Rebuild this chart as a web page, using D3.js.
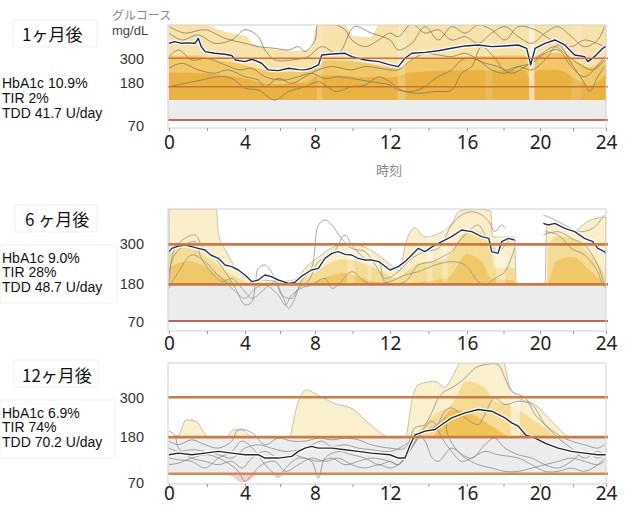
<!DOCTYPE html>
<html><head><meta charset="utf-8">
<script src="https://cdn.jsdelivr.net/npm/d3@7"></script>
<style>body{margin:0;background:#fff}svg{display:block}</style>
</head><body><svg id="c" width="629" height="506"></svg>
<script>
// ---------- data ----------
const hourTicks = [0,4,8,12,16,20,24];
const minorTicks = [0,2,4,6,8,10,12,14,16,18,20,22,24];
const thresholds = [70,180,300];
const titles = ["1ヶ月後","6 ヶ月後","12ヶ月後"];
const hba1c = ["HbA1c 10.9%","HbA1c 9.0%","HbA1c 6.9%"];
const tir = ["TIR 2%","TIR 28%","TIR 74%"];
const tdd = ["TDD 41.7 U/day","TDD 48.7 U/day","TDD 70.2 U/day"];

// Panel 1 (1 month)
const median1 = [[0,363],[0.3,370],[0.67,363],[1.0,365],[1.37,363],[1.54,384],[1.7,349],[1.9,328],[2.4,321],[2.95,317],[3.3,312],[3.5,293],[4.0,286],[4.4,296],[4.95,279],[5.33,251],[5.9,248],[6.5,258],[7.05,252],[7.43,251],[7.8,258],[8.18,272],[8.36,314],[8.9,318],[9.6,321],[9.96,307],[10.67,293],[11.4,286],[12.0,272],[12.43,265],[12.78,300],[13.13,321],[13.82,325],[14.51,332],[15.2,342],[15.9,352],[16.62,356],[17.35,349],[18.08,352],[18.81,356],[19.27,342],[19.49,272],[19.73,342],[20.3,363],[20.9,377],[21.5,356],[22.1,314],[22.7,307],[22.9,286],[23.3,307],[23.8,342],[24,350]];
const upper1 = [[0,440],[2.0,440],[2.6,420],[3.3,405],[4.0,395],[4.5,360],[5.0,345],[6.0,335],[7.0,332],[7.8,340],[8.1,440],[9.6,440],[10.0,395],[11.0,390],[11.4,440],[24,440]];
const mid1 = [[0,310],[1.5,312],[2,300],[3.5,280],[5,252],[6,242],[7.5,245],[8.2,268],[8.5,292],[10,288],[12,262],[12.6,258],[13.2,292],[15,302],[17,310],[19.2,312],[19.5,250],[19.75,310],[21,322],[22.3,282],[23,262],[24,300]];
const low1 = [[0,240],[2,236],[4,214],[5.5,190],[7.5,198],[8.2,228],[12,218],[13,240],[16,250],[19.2,250],[19.5,200],[19.75,250],[21,252],[22.5,200],[23,185],[24,230]];
const stripes1 = [[8.1,8.4,0.18],[12.4,12.8,0.22],[17.0,17.4,0.12],[19.4,19.7,0.55],[21.9,22.5,0.12]];
const trace1a = [[0,180],[0.84,194],[1.7,208],[2.6,222],[3.3,215],[4.0,175],[4.76,169],[5.7,136],[6.5,164],[7.43,180],[8.18,201],[8.53,187],[9.1,164],[9.96,180],[10.67,187],[11.4,222],[12.0,200],[12.43,175],[12.78,164],[13.47,158],[14.34,164],[15.2,169],[15.72,237],[16.26,265],[16.8,349],[17.53,300],[18.08,251],[18.81,265],[19.55,251],[20.3,293],[21.1,356],[21.9,279],[22.7,194],[23.0,164],[23.5,222],[23.9,265]];
const trace1b = [[0,258],[0.67,279],[1.54,251],[2.4,237],[3.1,251],[4,222],[4.76,208],[5.14,180],[5.9,215],[6.67,194],[7.43,222],[8.18,251],[8.9,265],[9.96,251],[10.67,265],[12,251],[12.43,251],[13.13,293],[13.82,321],[14.51,314],[15.2,307],[15.9,321],[16.62,293],[17.35,251],[18.08,237],[18.81,265],[19.55,279],[20.3,321],[21.1,335],[21.9,265],[22.7,222],[23.9,307]];
const trace1c = [[0,433],[0.84,406],[1.9,420],[2.95,384],[4,363],[4.76,349],[5.7,342],[6.5,335],[7.05,349],[7.43,328],[8,377],[8.18,445],[8.9,445],[9.6,420],[9.96,377],[10.67,349],[11.4,377],[12,406],[12.43,391],[13.13,445],[13.82,406],[14.51,420],[15.2,377],[15.9,391],[16.62,363],[17.35,406],[18.08,433],[18.81,391],[19.55,363],[20.3,406],[21.1,433],[21.9,391],[22.7,349],[23.5,377],[23.9,433]];
const trace1d = [[0,406],[0.67,377],[1.54,398],[2.4,363],[3.3,377],[4,420],[4.76,391],[5.14,335],[5.7,293],[6.67,293],[7.6,307],[8.36,349],[9.24,321],[10.1,433],[11,406],[12,377],[12.43,335],[13.13,363],[13.82,433],[14.51,377],[15.2,433],[15.9,406],[16.62,440],[17.35,420],[18.08,377],[18.81,433],[19.73,420],[20.7,377],[21.9,349],[22.7,377],[23.9,349]];
const trace1e = [[0,307],[0.5,335],[1.2,293],[2.0,300],[2.95,272],[3.7,251],[4.4,258],[5.14,222],[6.2,208],[7.05,222],[7.8,237],[8.53,215],[9.24,222],[9.96,215],[11,201],[12,187],[12.43,169],[13.13,164],[13.82,180],[14.34,215],[15.2,251],[15.72,293],[16.26,300],[17.0,279],[17.7,265],[18.45,237],[19.2,265],[19.9,307],[20.9,349],[21.5,321],[22.3,279],[23.2,251],[23.9,293]];

// Panel 2 (6 months)
const median2 = [[0,278],[0.15,288],[0.5,295],[0.84,298],[1.2,293],[1.54,288],[1.9,283],[2.2,268],[2.6,258],[2.95,238],[3.3,233],[3.65,223],[4,208],[4.4,188],[4.76,193],[5.14,208],[5.5,203],[5.9,193],[6.5,183],[6.85,186],[7.2,203],[7.8,223],[8.18,228],[8.53,258],[8.9,273],[9.24,278],[9.6,270],[9.96,268],[10.3,258],[10.67,253],[11,253],[11.4,248],[12,223],[12.43,233],[12.78,248],[13.13,268],[13.47,288],[13.82,278],[14.2,293],[14.51,303],[15.2,323],[15.72,343],[16.26,338],[16.8,323],[17.2,318],[17.35,278],[17.7,273],[17.9,308],[18.27,318],[18.6,313],[18.65,null],[20.15,null],[20.2,363],[20.5,358],[20.9,363],[21.5,348],[22.1,338],[22.7,318],[23.2,308],[23.5,288],[23.9,278],[24,272]];
const upper2 = [[0,406],[2.5,406],[2.6,330],[3.0,280],[3.6,222],[4.2,196],[6.5,190],[7.0,200],[7.5,232],[8.2,262],[9,292],[10,300],[11,282],[12,240],[12.5,222],[12.8,300],[13.3,350],[13.8,322],[14.5,332],[15.2,362],[15.6,400],[16.5,406],[17.3,400],[17.4,322],[18.6,322],[18.7,180],[20.3,180],[20.4,350],[21,362],[22,340],[23,372],[24,382]];
const mid2 = [[0,270],[0.6,290],[1.5,280],[2.3,250],[3,220],[3.6,200],[4.2,185],[6.8,183],[7.3,195],[8,215],[8.5,235],[9.5,255],[10.5,245],[11.5,220],[12.3,200],[12.8,215],[13.5,245],[14.5,250],[15.2,275],[15.8,330],[16.5,340],[17.3,300],[17.5,230],[18.6,230],[18.7,180],[20.4,180],[20.5,290],[21,325],[22,315],[23,270],[23.7,230],[24,200]];
const low2 = [[0,230],[1,250],[2,230],[3,195],[3.5,182],[7.5,182],[8.5,200],[9.5,215],[10.5,200],[12,182],[15,200],[16,270],[16.8,250],[17.3,200],[18.6,190],[18.7,180],[20.4,180],[21,250],[22,262],[23,222],[24,180]];
const stripes2 = [[9.7,10.1,0.25],[10.8,11.0,0.25],[13.9,14.2,0.25],[14.7,15.0,0.25],[17.6,18.1,0.3]];
const trace2a = [[0,188],[0.3,288],[0.84,318],[1.37,328],[1.7,298],[2.05,268],[2.4,258],[2.95,218],[3.5,168],[4,118],[4.4,128],[4.6,188],[4.76,228],[5.14,238],[5.5,218],[6.2,138],[6.5,108],[6.85,138],[7.2,188],[7.8,228],[8.18,358],[8.53,373],[8.9,358],[9.4,318],[9.96,288],[10.67,278],[11.2,240],[11.73,198],[12.43,218],[13.13,258],[13.82,278],[14.51,288],[15.2,358],[15.72,388],[16.26,398],[16.8,388],[17.2,368],[17.53,338],[17.9,358],[18.1,348],[18.2,null],[20.1,null],[20.2,388],[20.7,378],[21.5,358],[22.3,338],[23.2,348],[23.9,388]];
const trace2b = [[0,218],[0.3,268],[0.84,298],[1.37,308],[1.7,258],[2.2,218],[2.8,188],[3.3,198],[3.85,168],[4.4,138],[4.95,158],[5.7,188],[6.1,148],[6.67,138],[7.05,168],[7.6,188],[8.18,248],[8.9,268],[9.6,328],[9.96,298],[10.67,258],[11.4,248],[11.73,188],[12.78,188],[13.47,238],[14.2,248],[14.9,268],[15.2,278],[15.72,318],[16.26,348],[16.62,358],[17.2,308],[17.7,278],[18.45,318],[18.7,308],[18.75,null],[20.1,null],[20.2,328],[21.1,338],[21.9,318],[22.7,298],[23.5,238],[23.9,178]];
const trace2c = [[0,168],[0.5,218],[1.2,268],[1.9,248],[2.4,218],[2.95,188],[3.5,158],[4.0,138],[4.6,168],[5.14,178],[5.9,148],[6.3,118],[6.67,148],[7.2,168],[7.8,178],[8.53,198],[8.9,168],[9.24,178],[9.96,218],[10.67,188],[11.4,183],[12,188],[12.78,208],[13.47,218],[14.34,238],[15.2,248],[15.9,238],[16.62,188],[16.98,178],[17.53,198],[18.08,218],[18.6,288],[18.65,null],[20.2,null],[20.3,338],[21.1,328],[21.9,288],[22.7,268],[23.5,218],[23.8,178],[24,170]];

// Panel 3 (12 months)
const median3 = [[0,127],[0.5,132],[1.2,127],[1.9,132],[2.6,137],[3.3,132],[4.0,127],[4.76,127],[5.14,117],[5.9,117],[6.67,122],[7.05,137],[7.43,147],[7.8,152],[8.18,147],[8.9,147],[9.6,142],[10.3,137],[11,132],[12,127],[12.43,117],[12.78,117],[13.05,157],[13.3,187],[13.82,198],[14.34,203],[14.7,218],[15.2,238],[15.9,253],[16.62,263],[17.35,258],[18.08,238],[18.45,223],[18.81,213],[19.2,187],[19.73,177],[20.3,162],[21.1,147],[21.9,137],[22.7,132],[23.5,127],[24,127]];
const upper3 = [[0,180],[0.5,186],[0.9,232],[1.4,228],[2.1,180],[3.0,180],[3.4,202],[3.9,200],[4.4,180],[6.5,180],[7.0,280],[7.5,322],[8.2,305],[9,282],[10,265],[11,215],[12,180],[12.8,180],[13.13,288],[13.47,338],[14.34,348],[14.85,330],[15.2,358],[15.72,405],[18.0,405],[18.3,338],[18.8,300],[19.73,278],[20.7,228],[21.9,180],[24,180]];
const mid3 = [[0,180],[13.0,180],[13.3,190],[14.34,248],[15.2,278],[16.0,348],[16.98,328],[17.5,288],[18.3,278],[19.2,248],[20.3,208],[21.1,180],[24,180]];
const low3 = [[0,180],[14.2,180],[14.7,230],[15.2,262],[15.9,258],[16.6,240],[17.3,215],[18,190],[18.3,180],[24,180]];
const hypo3 = [[0,70],[3.0,70],[3.4,58],[3.85,44],[4.3,52],[4.8,70],[5.4,70],[5.9,57],[6.3,70],[24,70]];
const stripes3 = [[18.4,18.9,0.5]];
const trace3a = [[0,198],[0.3,187],[0.5,147],[1.2,117],[1.9,107],[2.6,97],[3.3,107],[3.85,87],[4.4,117],[5.14,137],[5.9,117],[6.67,127],[7.43,117],[8.18,107],[8.9,117],[9.6,97],[10.3,107],[11,117],[12,107],[12.43,97],[13.13,147],[13.47,187],[13.82,168],[14.2,117],[14.51,107],[15.2,147],[15.9,117],[16.62,97],[17.35,87],[18.08,77],[18.81,77],[19.55,87],[20.3,97],[21.1,107],[21.9,117],[22.7,107],[23.5,97],[23.9,107]];
const trace3b = [[0,168],[0.5,157],[1.2,172],[1.9,157],[2.6,147],[3.3,168],[3.65,203],[4.4,193],[5.14,157],[5.9,177],[6.67,168],[7.43,168],[8.18,177],[8.9,172],[9.6,177],[10.3,172],[11,157],[12,147],[12.78,147],[13.3,208],[13.82,218],[14.2,258],[14.51,298],[14.85,318],[15.2,328],[15.9,358],[16.44,388],[16.98,398],[17.7,398],[18.08,358],[18.45,318],[19.2,298],[19.73,248],[20.3,218],[21.1,187],[21.9,168],[22.7,157],[23.5,147],[23.9,157]];
const trace3c = [[0,117],[0.5,112],[1.2,107],[1.9,87],[2.6,117],[3.3,137],[3.85,168],[4.6,137],[5.14,97],[5.9,67],[6.5,97],[7.05,117],[7.8,107],[8.18,57],[8.53,117],[9.24,137],[9.96,127],[10.67,117],[11.4,97],[12,107],[12.43,97],[12.95,137],[13.47,177],[13.82,198],[14.51,218],[14.85,238],[15.0,187],[15.55,137],[16.26,117],[16.98,157],[17.5,177],[18.08,147],[18.81,127],[19.55,117],[20.3,97],[21.1,87],[21.9,107],[22.7,137],[23.5,117],[23.9,127]];
const trace3d = [[0,147],[0.5,137],[1.2,142],[1.9,137],[2.6,127],[3.3,117],[4.0,147],[4.76,157],[5.5,147],[6.3,137],[7.05,142],[7.8,157],[8.36,168],[8.9,152],[9.6,157],[10.3,147],[11,142],[12,137],[12.78,157],[13.47,187],[14.34,208],[14.85,258],[15.2,268],[15.9,238],[16.62,218],[16.98,248],[17.5,298],[18.08,278],[18.81,288],[19.55,278],[20.3,218],[21.1,177],[21.9,147],[22.7,117],[23.5,137],[23.9,127]];
const trace3e = [[0,97],[0.5,102],[1.2,117],[2.05,127],[2.95,107],[3.65,77],[4.0,47],[4.4,67],[4.95,97],[5.7,107],[6.3,77],[7.05,97],[7.8,117],[8.53,107],[9.24,117],[9.96,97],[10.67,87],[11.4,97],[12,87],[12.43,97],[13.13,147],[13.65,198],[14.2,228],[14.7,177],[15.2,137],[15.72,107],[16.26,117],[16.98,137],[17.7,127],[18.81,117],[19.55,97],[20.3,77],[21.1,77],[21.9,87],[22.7,77],[23.5,97],[23.9,117]];

// ---------- layout / style ----------
const hourPx = [169,245,315,390,467,540,606];
const panels = [
  {yDom:[44,70,180,300,440], yRng:[128,120,86.7,58.3,25], base:136, grayTop:136,
   median:median1, upper:upper1, mid:mid1, low:low1, hypo:null, stripes:stripes1,
   traces:[trace1a,trace1b,trace1c,trace1d,trace1e],
   colUpper:"#f7e2ab", colMid:"#f0c460", colLow:"#e7ae3c", edge:false,
   traceCol:"#7f7855", medCol:"#1c2a55",
   lineCols:["#b53a26","#d2703a","#d2703a"], lineW:[1.6,1.6,1.6],
   titleY:41, titleX:22, statsY:[88,103,117.5], labelShift:[6,-4,0], xBase:149,
   titleBox:[13,20,84,27], statsBox:null},
  {yDom:[40,406], yRng:[331,209], base:180, grayTop:180,
   median:median2, upper:upper2, mid:mid2, low:low2, hypo:null, stripes:stripes2,
   traces:[trace2a,trace2b,trace2c],
   colUpper:"#fbefcb", colMid:"#f4d98f", colLow:"#eec462", edge:true,
   traceCol:"#8f8f86", medCol:"#2a3555",
   lineCols:["#a53a26","#c97a45","#c97a45"], lineW:[1.6,2.6,2.6],
   titleY:226, titleX:25, statsY:[262.5,277,292], labelShift:[1,-1,-1], xBase:350,
   titleBox:[15,205,82,27], statsBox:[0,245,117,58]},
  {yDom:[39,403], yRng:[484,363], base:180, grayTop:180,
   median:median3, upper:upper3, mid:mid3, low:low3, hypo:hypo3, stripes:stripes3,
   traces:[trace3a,trace3b,trace3c,trace3d,trace3e],
   colUpper:"#fbf0cd", colMid:"#f5d88e", colLow:"#eebd50", edge:true,
   traceCol:"#888888", medCol:"#2a2a2a",
   lineCols:["#cf8a58","#c97c45","#c97c45"], lineW:[2.4,2.6,2.6],
   titleY:382, titleX:22, statsY:[417.5,432,446.5], labelShift:[9,0,1], xBase:500,
   titleBox:[14,360,84,27], statsBox:[0,400,115,58]}
];

const svg = d3.select("#c");
const latin = "'Liberation Sans', Arial, sans-serif";
const cjk = "'Noto Sans CJK JP', sans-serif";

panels.forEach((p, i) => {
  const x = d3.scaleLinear().domain(hourTicks).range(hourPx);
  const y = d3.scaleLinear().domain(p.yDom).range(p.yRng);
  const left = 168, right = 606;
  const top = d3.min(p.yRng), bottom = d3.max(p.yRng);
  const g = svg.append("g");

  const clipId = "clip" + i;
  svg.append("defs").append("clipPath").attr("id", clipId)
    .append("rect").attr("x", left).attr("y", top).attr("width", right-left).attr("height", bottom-top);
  const pg = g.append("g").attr("clip-path", `url(#${clipId})`);

  // gray target band
  pg.append("rect").attr("x", left).attr("width", right-left)
    .attr("y", y(p.grayTop)).attr("height", y(70)-y(p.grayTop)).attr("fill", "#ececec");

  // percentile bands
  const band = d3.area().x(d=>x(d[0])).y0(y(p.base)).y1(d=>y(Math.max(d[1], p.base))).curve(d3.curveMonotoneX);
  pg.append("path").datum(p.upper).attr("d", band).attr("fill", p.colUpper)
    .attr("stroke", p.edge ? "#b9b39c" : "none").attr("stroke-width", 0.8);
  pg.append("path").datum(p.mid).attr("d", band).attr("fill", p.colMid).attr("opacity", 0.9);
  pg.append("path").datum(p.low).attr("d", band).attr("fill", p.colLow).attr("opacity", 0.85);

  // lighter vertical strips
  pg.selectAll("rect.strip").data(p.stripes).join("rect")
    .attr("x", d=>x(d[0])).attr("width", d=>x(d[1])-x(d[0]))
    .attr("y", top).attr("height", y(p.base)-top)
    .attr("fill", "#ffffff").attr("opacity", d=>d[2]);

  if (p.hypo) {
    const hyp = d3.area().x(d=>x(d[0])).y0(y(70)).y1(d=>y(Math.min(d[1],70))).curve(d3.curveMonotoneX);
    pg.append("path").datum(p.hypo).attr("d", hyp).attr("fill", "#f2cfc9");
  }

  // threshold lines
  g.selectAll("line.th").data(thresholds).join("line")
    .attr("x1", left).attr("x2", right+2)
    .attr("y1", d=>y(d)).attr("y2", d=>y(d))
    .attr("stroke", (d,j)=>p.lineCols[j]).attr("stroke-width", (d,j)=>p.lineW[j]);

  // daily traces
  const tl = d3.line().defined(d=>d[1]!==null).x(d=>x(d[0])).y(d=>y(d[1])).curve(d3.curveCatmullRom.alpha(0.5));
  p.traces.forEach(t => {
    pg.append("path").datum(t).attr("d", tl).attr("fill", "none")
      .attr("stroke", p.traceCol).attr("stroke-width", 0.9).attr("opacity", 0.85);
  });

  // median
  const ml = d3.line().defined(d=>d[1]!==null).x(d=>x(d[0])).y(d=>y(d[1]));
  pg.append("path").datum(p.median).attr("d", ml).attr("fill","none")
    .attr("stroke","#ffffff").attr("stroke-width",4).attr("opacity",0.9).attr("stroke-linejoin","round");
  pg.append("path").datum(p.median).attr("d", ml).attr("fill","none")
    .attr("stroke",p.medCol).attr("stroke-width",1.4).attr("stroke-linejoin","round");

  // frame
  g.append("rect").attr("x", left).attr("y", top).attr("width", right-left).attr("height", bottom-top)
    .attr("fill","none").attr("stroke","#cfcfcf").attr("stroke-width",1);

  // minor ticks
  const mt = g.append("g").attr("transform", `translate(0,${bottom})`)
    .call(d3.axisBottom(x).tickValues(minorTicks).tickSize(3).tickFormat(""));
  mt.select(".domain").remove();
  mt.selectAll("line").attr("stroke","#9a9a9a");

  // hour labels
  const fs = 19;
  const ax = g.append("g").attr("transform", `translate(0,${bottom})`)
    .call(d3.axisBottom(x).tickValues(hourTicks).tickSize(0).tickPadding(p.xBase - bottom - 0.71*fs));
  ax.select(".domain").remove();
  ax.selectAll("text").attr("font-family", "'Noto Sans', sans-serif").attr("font-size", fs).attr("fill", "#222");

  // y labels
  g.selectAll("text.yl").data(thresholds).join("text")
    .attr("x", 144).attr("y", (d,j)=>y(d)+p.labelShift[j]).attr("dy","0.36em")
    .attr("text-anchor","end").attr("font-family", latin).attr("font-size", 14.5).attr("fill","#333")
    .text(d=>d);

  // title & stats boxes
  g.append("rect").attr("x",p.titleBox[0]).attr("y",p.titleBox[1]).attr("width",p.titleBox[2]).attr("height",p.titleBox[3])
    .attr("fill","none").attr("stroke","#efefef");
  if (p.statsBox) g.append("rect").attr("x",p.statsBox[0]).attr("y",p.statsBox[1]).attr("width",p.statsBox[2]).attr("height",p.statsBox[3])
    .attr("fill","none").attr("stroke","#efefef");
  g.append("text").attr("x", p.titleX).attr("y", p.titleY).attr("font-family", cjk)
    .attr("font-size", 17).attr("fill","#111").text(titles[i]);
  const st = [hba1c[i], tir[i], tdd[i]];
  g.selectAll("text.st").data(st).join("text")
    .attr("x", 2).attr("y", (d,j)=>p.statsY[j]).attr("font-family", latin)
    .attr("font-size", 14).attr("fill","#111").text(d=>d);

  if (i === 0) {
    svg.append("text").attr("x",112).attr("y",20).attr("font-family",cjk).attr("font-size",12).attr("fill","#8a8a8a").text("グルコース");
    svg.append("text").attr("x",112).attr("y",35).attr("font-family",latin).attr("font-size",13).attr("fill","#444").text("mg/dL");
    svg.append("text").attr("x",389).attr("y",175).attr("text-anchor","middle").attr("font-family",cjk).attr("font-size",13).attr("fill","#888").text("時刻");
  }
});
</script></body></html>
